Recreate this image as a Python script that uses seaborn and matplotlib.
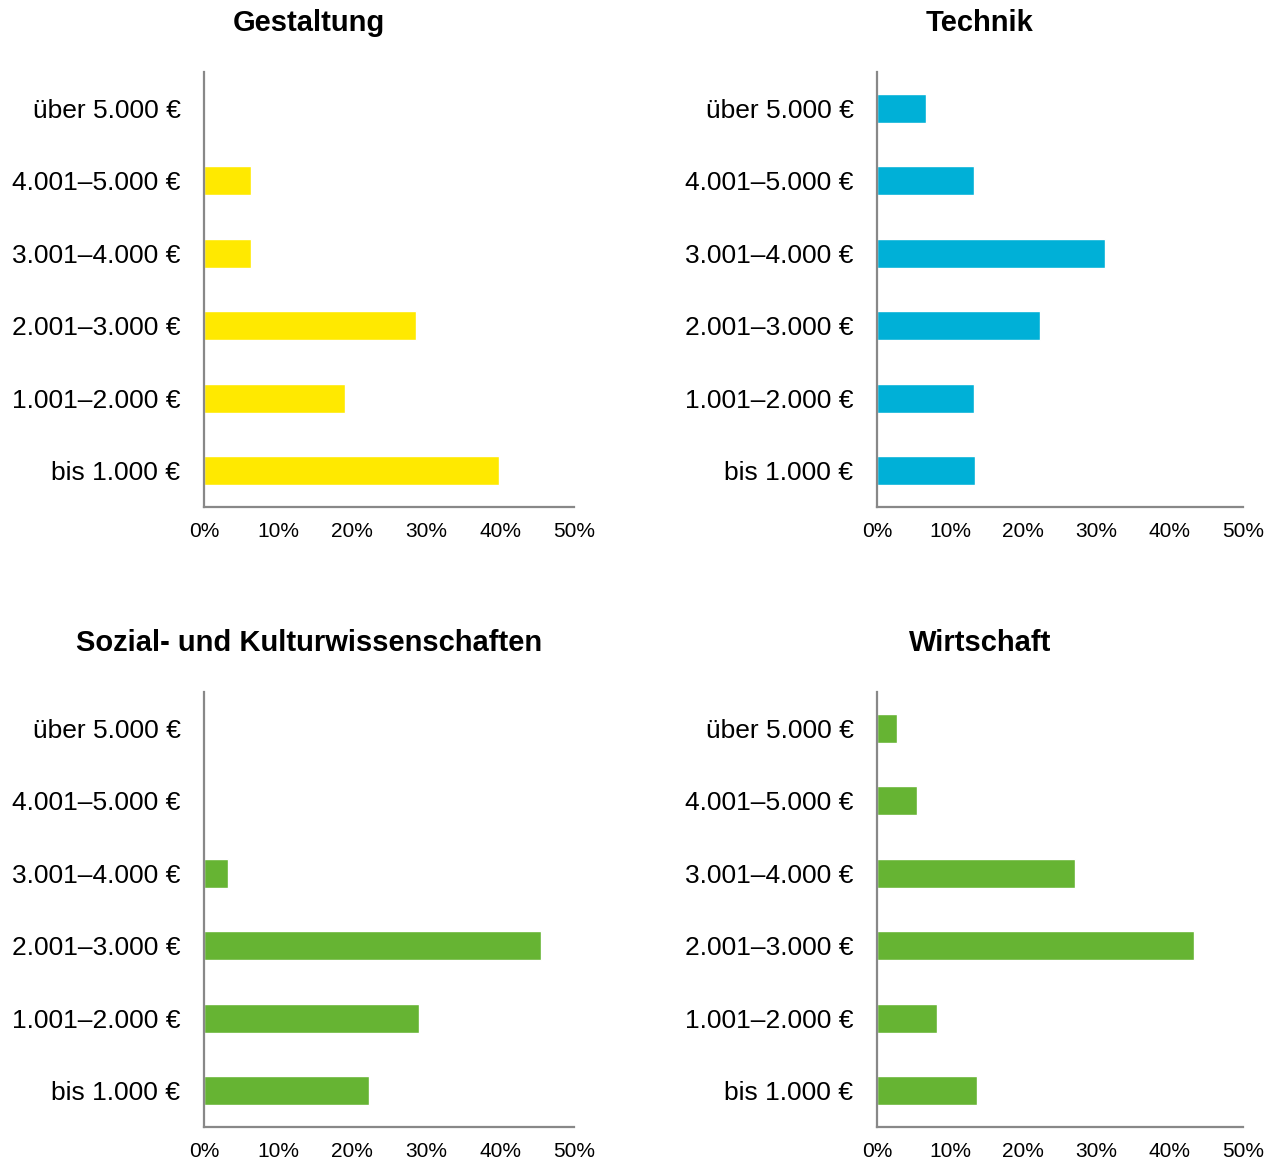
import matplotlib
matplotlib.use("Agg")
import matplotlib.pyplot as plt
import seaborn as sns
import pandas as pd
from matplotlib.ticker import FuncFormatter

# Income brackets (top to bottom)
categories = ["über 5.000 €", "4.001–5.000 €", "3.001–4.000 €",
              "2.001–3.000 €", "1.001–2.000 €", "bis 1.000 €"]

# Shares in percent per field of study
gestaltung = [0.0, 6.3, 6.3, 28.6, 19.1, 39.8]
technik = [6.7, 13.3, 31.1, 22.2, 13.3, 13.4]
sozial_kultur = [0.0, 0.0, 3.3, 45.6, 29.0, 22.3]
wirtschaft = [2.8, 5.4, 27.0, 43.3, 8.2, 13.6]

titles = ["Gestaltung", "Technik", "Sozial- und Kulturwissenschaften", "Wirtschaft"]
series = [gestaltung, technik, sozial_kultur, wirtschaft]
colors = ["#FFE900", "#00B0D7", "#66B433", "#66B433"]
x_ticks = [0, 10, 20, 30, 40, 50]

sns.set_theme(style="white")
plt.rcParams["font.family"] = ["Liberation Sans", "DejaVu Sans"]

W, H = 1276, 1165
fig = plt.figure(figsize=(W / 100, H / 100), dpi=100)

# panel geometry in pixels: (left, top, right, bottom)
boxes = [(204, 72, 574, 507), (877, 72, 1243, 507),
         (204, 692, 574, 1127), (877, 692, 1243, 1127)]
title_pos = [(309, 23), (980, 23), (309, 643), (980, 643)]

for vals, title, col, box, tp in zip(series, titles, colors, boxes, title_pos):
    l, t, r, b = box
    ax = fig.add_axes([l / W, 1 - b / H, (r - l) / W, (b - t) / H])
    df = pd.DataFrame({"Einkommen": categories, "Anteil": vals})
    sns.barplot(data=df, y="Einkommen", x="Anteil", order=categories,
                color=col, saturation=1, width=0.4, orient="h", ax=ax)
    ax.set_xlim(0, 50)
    ax.set_ylim(5.5, -0.5)
    ax.set_xticks(x_ticks)
    ax.xaxis.set_major_formatter(FuncFormatter(lambda v, p: f"{int(v)}%"))
    ax.set_xlabel("")
    ax.set_ylabel("")
    for s in ["top", "right"]:
        ax.spines[s].set_visible(False)
    for s in ["left", "bottom"]:
        ax.spines[s].set_color("#888888")
        ax.spines[s].set_linewidth(1.6)
    ax.tick_params(axis="y", length=0, pad=17, labelsize=19, labelcolor="#000000")
    ax.tick_params(axis="x", length=0, pad=11, labelsize=15, labelcolor="#000000")
    ax.grid(False)
    fig.text(tp[0] / W, 1 - tp[1] / H, title, ha="center", va="center",
             fontsize=21, fontweight="bold", color="#000000")

fig.savefig("out.png", dpi=100, facecolor="white")
